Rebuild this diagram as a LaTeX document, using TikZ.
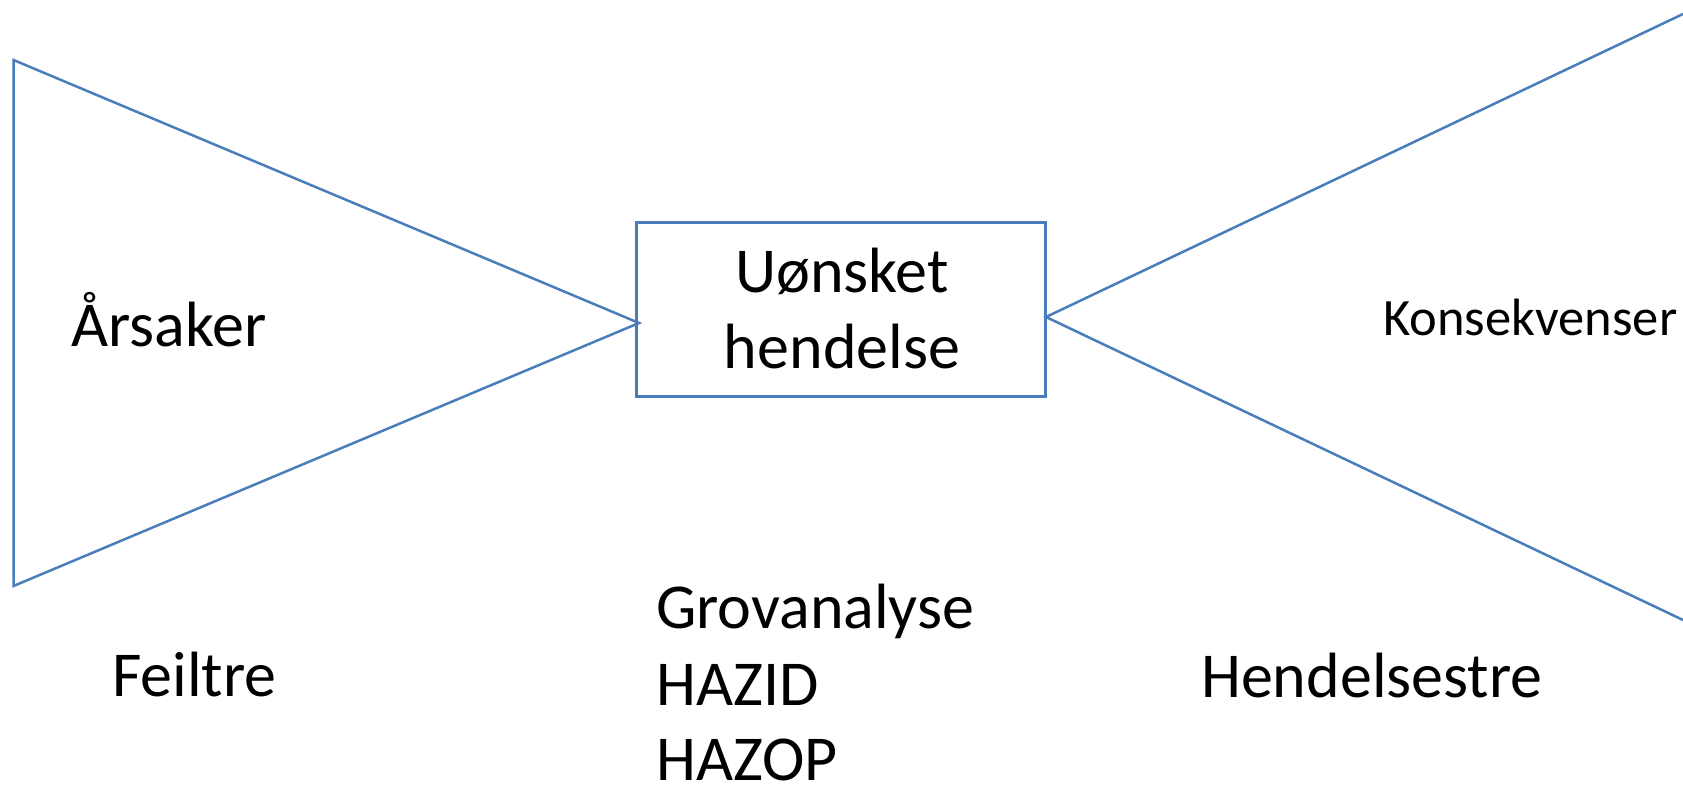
\documentclass[tikz,border=0pt]{standalone}
\usepackage{fontspec}
\setmainfont{Carlito}
\definecolor{lineblue}{RGB}{74,126,187}
\begin{document}
\begin{tikzpicture}[x=1pt,y=-1pt,
  shape line/.style={draw=lineblue,line width=2.5pt,line join=miter},
  big/.style={font=\fontsize{64}{77}\selectfont,inner sep=0pt},
  mid/.style={font=\fontsize{52.5}{63}\selectfont,inner sep=0pt}]
\useasboundingbox (0,0) rectangle (1683,786);
% left triangle
\coordinate (LT) at (13.5,60);
\coordinate (LB) at (13.5,586);
\coordinate (LA) at (639,323);
\draw[shape line] (LT) -- (LB) -- (LA) -- cycle;
% right wedge
\coordinate (RA) at (1046,317);
\coordinate (RT) at (1683,14);
\coordinate (RB) at (1683,620);
\draw[shape line] (RT) -- (RA) -- (RB);
% central box
\node[draw=lineblue,line width=2.5pt,minimum width=409pt,minimum height=174pt,inner sep=0pt] (box) at (841.2,309.7) {};
\node[big,anchor=base] (u1) at (842,292.7) {Uønsket};
\node[big,anchor=base] (u2) at (842,368.3) {hendelse};
% labels
\node[big,anchor=base west] (aars) at (71,346.7) {Årsaker};
\node[mid,anchor=base west] (kons) at (1383,335) {Konsekvenser};
\node[big,anchor=base west] (feil) at (112,696.7) {Feiltre};
\node[big,anchor=base west] (grov) at (656,628.3) {Grovanalyse};
\node[big,anchor=base west] (hazid) at (656,705) {HAZID};
\node[big,anchor=base west] (hazop) at (656,780.5) {HAZOP};
\node[big,anchor=base west] (hend) at (1201,697.7) {Hendelsestre};
\end{tikzpicture}
\end{document}
